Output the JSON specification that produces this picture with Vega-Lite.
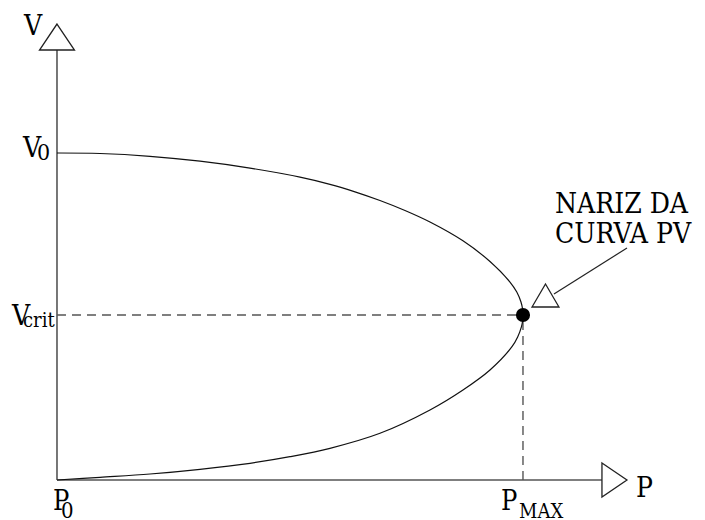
{
  "$schema": "https://vega.github.io/schema/vega-lite/v6.json",
  "width": 705,
  "height": 520,
  "autosize": {"type": "none"},
  "padding": 0,
  "background": "white",
  "config": {"view": {"stroke": null}},
  "datasets": {
    "curve": [
      {"o": 1, "p": 0, "v": 1.0},
      {"o": 2, "p": 0.0923, "v": 0.9985},
      {"o": 3, "p": 0.1996, "v": 0.9899},
      {"o": 4, "p": 0.3069, "v": 0.9749},
      {"o": 5, "p": 0.4142, "v": 0.9538},
      {"o": 6, "p": 0.5215, "v": 0.9263},
      {"o": 7, "p": 0.5858, "v": 0.9043},
      {"o": 8, "p": 0.6395, "v": 0.8813},
      {"o": 9, "p": 0.6931, "v": 0.8547},
      {"o": 10, "p": 0.7468, "v": 0.8242},
      {"o": 11, "p": 0.8004, "v": 0.789},
      {"o": 12, "p": 0.8712, "v": 0.7315},
      {"o": 13, "p": 0.9292, "v": 0.6682},
      {"o": 14, "p": 0.9721, "v": 0.6055},
      {"o": 15, "p": 0.9867, "v": 0.5749},
      {"o": 16, "p": 0.9957, "v": 0.5443},
      {"o": 17, "p": 0.9991, "v": 0.5229},
      {"o": 18, "p": 1.0, "v": 0.5046},
      {"o": 19, "p": 0.9991, "v": 0.4862},
      {"o": 20, "p": 0.9968, "v": 0.4688},
      {"o": 21, "p": 0.9886, "v": 0.4373},
      {"o": 22, "p": 0.9764, "v": 0.4076},
      {"o": 23, "p": 0.9292, "v": 0.3364},
      {"o": 24, "p": 0.8712, "v": 0.2752},
      {"o": 25, "p": 0.8004, "v": 0.2141},
      {"o": 26, "p": 0.6931, "v": 0.1428},
      {"o": 27, "p": 0.5858, "v": 0.0969},
      {"o": 28, "p": 0.5, "v": 0.0713},
      {"o": 29, "p": 0.4142, "v": 0.0511},
      {"o": 30, "p": 0.3069, "v": 0.0327},
      {"o": 31, "p": 0.1996, "v": 0.0183},
      {"o": 32, "p": 0.0923, "v": 0.0083},
      {"o": 33, "p": 0, "v": 0}
    ],
    "axes": [
      {"p": 0, "v": 0, "p2": 0, "v2": 1.315},
      {"p": 0, "v": 0, "p2": 1.1695, "v2": 0}
    ],
    "dashes": [
      {"p": 0, "v": 0.5046, "p2": 1.0, "v2": 0.5046},
      {"p": 1.0, "v": 0, "p2": 1.0, "v2": 0.5046}
    ],
    "pointer": [
      {"p": 1.0665, "v": 0.5688, "p2": 1.2232, "v2": 0.7095}
    ],
    "arrows": [
      {"p": 0, "v": 1.3547, "shape": "M0,-1L1.346,1L-1.346,1Z", "size": 676},
      {"p": 1.1963, "v": 0, "shape": "M-1,-1.36L1,0L-1,1.36Z", "size": 625},
      {"p": 1.0483, "v": 0.5642, "shape": "M0,-1L1.17,1L-1.17,1Z", "size": 529}
    ],
    "nose": [{"p": 1.0, "v": 0.5046}],
    "labels": [
      {"p": -0.0708, "v": 1.3609, "t": "V", "s": 28},
      {"p": -0.073, "v": 0.9878, "t": "V", "s": 28},
      {"p": -0.0429, "v": 0.9786, "t": "0", "s": 23},
      {"p": -0.0966, "v": 0.474, "t": "V", "s": 28},
      {"p": -0.073, "v": 0.4679, "t": "crit", "s": 20},
      {"p": -0.0086, "v": -0.0902, "t": "P", "s": 27},
      {"p": 0.0086, "v": -0.1147, "t": "0", "s": 22},
      {"p": 0.9528, "v": -0.0902, "t": "P", "s": 27},
      {"p": 0.9914, "v": -0.1147, "t": "MAX", "s": 20},
      {"p": 1.2425, "v": -0.052, "t": "P", "s": 28},
      {"p": 1.0687, "v": 0.8165, "t": "NARIZ  DA", "s": 28},
      {"p": 1.0687, "v": 0.7248, "t": "CURVA PV", "s": 28}
    ]
  },
  "encoding": {
    "x": {"field": "p", "type": "quantitative", "scale": {"domain": [-0.1223, 1.3906], "nice": false, "zero": false}, "axis": null},
    "y": {"field": "v", "type": "quantitative", "scale": {"domain": [-0.1223, 1.4679], "nice": false, "zero": false}, "axis": null}
  },
  "layer": [
    {
      "data": {"name": "axes"},
      "mark": {"type": "rule", "color": "#555555", "strokeWidth": 1.6},
      "encoding": {"x2": {"field": "p2"}, "y2": {"field": "v2"}}
    },
    {
      "data": {"name": "dashes"},
      "mark": {"type": "rule", "color": "#555555", "strokeWidth": 1.4, "strokeDash": [9, 6]},
      "encoding": {"x2": {"field": "p2"}, "y2": {"field": "v2"}}
    },
    {
      "data": {"name": "pointer"},
      "mark": {"type": "rule", "color": "#222222", "strokeWidth": 1.2},
      "encoding": {"x2": {"field": "p2"}, "y2": {"field": "v2"}}
    },
    {
      "data": {"name": "curve"},
      "mark": {"type": "line", "color": "#111111", "strokeWidth": 1.2, "interpolate": "catmull-rom"},
      "encoding": {"order": {"field": "o", "type": "quantitative"}}
    },
    {
      "data": {"name": "arrows"},
      "mark": {"type": "point", "filled": true, "fill": "white", "stroke": "#222222", "strokeWidth": 1.3, "opacity": 1},
      "encoding": {
        "shape": {"field": "shape", "type": "nominal", "scale": null},
        "size": {"field": "size", "type": "quantitative", "scale": null}
      }
    },
    {
      "data": {"name": "nose"},
      "mark": {"type": "point", "filled": true, "color": "black", "size": 200, "opacity": 1}
    },
    {
      "data": {"name": "labels"},
      "mark": {"type": "text", "align": "left", "baseline": "alphabetic", "font": "DejaVu Serif Condensed, DejaVu Serif", "color": "black"},
      "encoding": {
        "text": {"field": "t"},
        "size": {"field": "s", "type": "quantitative", "scale": null}
      }
    }
  ]
}
